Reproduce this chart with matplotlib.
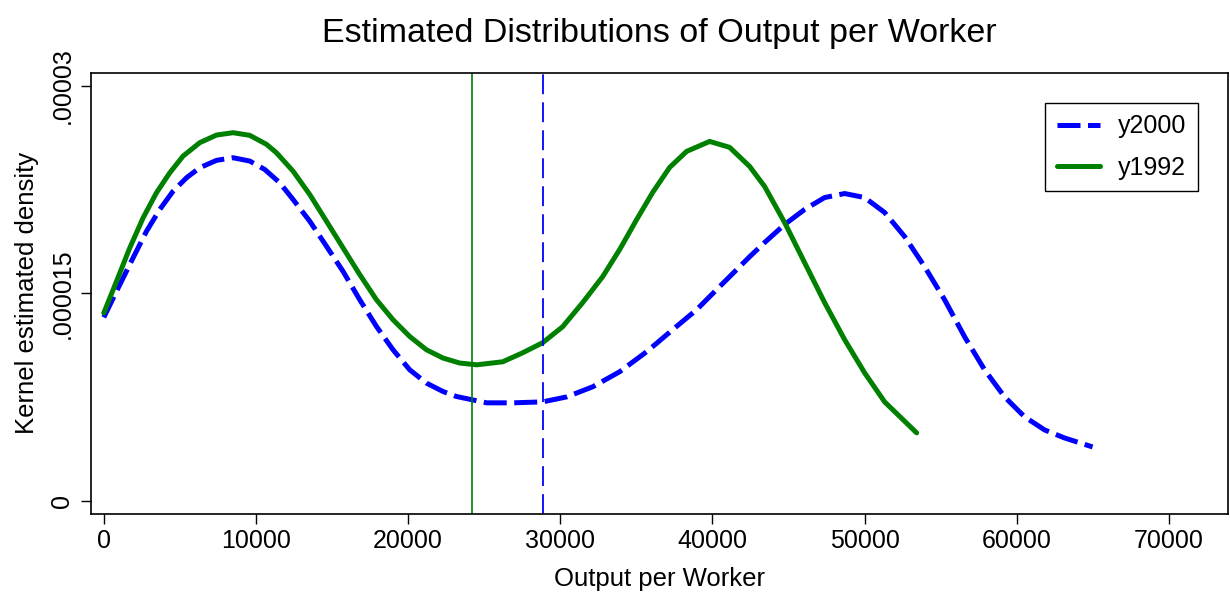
import numpy as np
import matplotlib
matplotlib.use("Agg")
import matplotlib.pyplot as plt

plt.rcParams['font.family'] = ['Liberation Sans', 'DejaVu Sans']

# kernel density estimates (density in units of 1e-5)
x_1992 = [0, 834, 1708, 2582, 3462, 4336, 5210, 6307, 7404, 8495, 9592, 10689,
          11346, 12437, 13534, 14631, 15722, 16819, 17916, 19007, 20104, 21201,
          22292, 23389, 24507, 26215, 27529, 28843, 30157, 31471, 32785, 33902,
          35019, 36070, 37187, 38304, 39815, 41129, 42443, 43429, 44743, 46057,
          47371, 48686, 50000, 51314, 53416]
d_1992 = [1.358, 1.587, 1.829, 2.046, 2.228, 2.372, 2.493, 2.590, 2.645, 2.662,
          2.643, 2.578, 2.517, 2.384, 2.215, 2.022, 1.829, 1.636, 1.454, 1.309,
          1.188, 1.092, 1.032, 0.996, 0.983, 1.005, 1.070, 1.143, 1.259, 1.433,
          1.621, 1.817, 2.034, 2.230, 2.411, 2.527, 2.599, 2.556, 2.418, 2.273,
          2.012, 1.722, 1.433, 1.165, 0.925, 0.715, 0.491]

x_2000 = [0, 1051, 1925, 2805, 3679, 4553, 5433, 6307, 7404, 8495, 9592, 10578,
          11563, 12437, 13534, 14631, 15722, 16819, 17916, 19007, 20104, 21201,
          22292, 23172, 25164, 26873, 28843, 30420, 32129, 33902, 35676, 37384,
          38961, 40473, 42443, 43429, 44743, 46057, 47371, 48686, 50000, 51314,
          52628, 53942, 55256, 56570, 57884, 59198, 60512, 61826, 63140, 64980]
d_2000 = [1.326, 1.563, 1.757, 1.949, 2.107, 2.239, 2.336, 2.409, 2.462, 2.481,
          2.457, 2.396, 2.300, 2.179, 2.022, 1.841, 1.659, 1.454, 1.261, 1.092,
          0.947, 0.851, 0.790, 0.754, 0.708, 0.708, 0.715, 0.751, 0.824, 0.933,
          1.078, 1.237, 1.382, 1.549, 1.765, 1.868, 1.998, 2.107, 2.193, 2.222,
          2.193, 2.085, 1.911, 1.693, 1.454, 1.186, 0.947, 0.751, 0.607, 0.512,
          0.454, 0.389]

mean_1992 = 24200
mean_2000 = 28860

xticks = [0, 10000, 20000, 30000, 40000, 50000, 60000, 70000]
yticks = [0, 0.000015, 0.00003]
ytick_labels = ['0', '.000015', '.00003']

fig = plt.figure(figsize=(12.3, 5.96), dpi=100)
ax = fig.add_axes([0.074, 0.1376, 0.924, 0.7404])

d2000 = np.array(d_2000) * 1e-5
d1992 = np.array(d_1992) * 1e-5

ax.plot(x_2000, d2000, color='blue', lw=3.6, linestyle=(0, (4.6, 1.5)),
        dash_joinstyle='round', label='y2000')
ax.plot(x_1992, d1992, color='green', lw=3.6, solid_joinstyle='round',
        solid_capstyle='round', label='y1992')
ax.axvline(mean_1992, color='green', lw=1.2)
ax.axvline(mean_2000, color='blue', lw=1.3, linestyle=(0, (11, 4.5)))

ax.set_xlim(-840, 73850)
ax.set_ylim(-0.96e-6, 3.096e-5)
ax.set_xticks(xticks)
ax.set_xticklabels([str(t) for t in xticks])
ax.set_yticks(yticks)
ax.set_yticklabels(ytick_labels, rotation=90, va='center')

ax.tick_params(axis='both', direction='out', length=7, width=1, labelsize=18,
               color='black')
ax.tick_params(axis='y', pad=5)
ax.tick_params(axis='x', pad=4)
for s in ax.spines.values():
    s.set_linewidth(1.2)

ax.set_xlabel('Output per Worker', fontsize=18.5, labelpad=10)
ax.set_ylabel('Kernel estimated density', fontsize=18.5, labelpad=8)
ax.set_title('Estimated Distributions of Output per Worker', fontsize=24.5,
             pad=22)

leg = ax.legend(loc='upper right', bbox_to_anchor=(0.9736, 0.931),
                borderaxespad=0, fontsize=18, handlelength=1.75,
                fancybox=False, edgecolor='black', framealpha=1,
                labelspacing=0.7, borderpad=0.45, handletextpad=0.7)
leg.get_frame().set_linewidth(1.0)

fig.savefig('out.png', dpi=100)
